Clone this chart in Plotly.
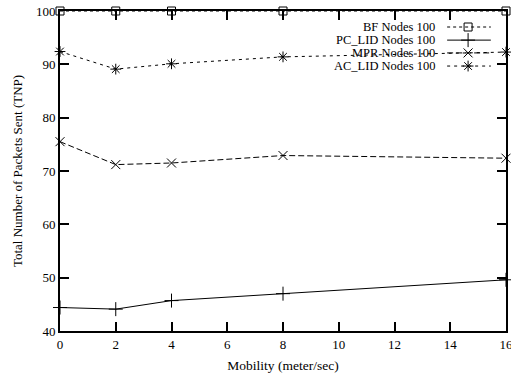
import plotly.graph_objects as go

mobility = [0, 2, 4, 8, 16]
bf = [100, 100, 100, 100, 100]
pc_lid = [44.4, 44.1, 45.7, 47.0, 49.6]
mpr = [75.5, 71.2, 71.5, 72.9, 72.4]
ac_lid = [92.4, 89.1, 90.1, 91.4, 92.3]

series_names = ["BF Nodes 100", "PC_LID Nodes 100", "MPR Nodes 100", "AC_LID Nodes 100"]
x_ticks = [0, 2, 4, 6, 8, 10, 12, 14, 16]
y_ticks = [40, 50, 60, 70, 80, 90, 100]

styles = [
    dict(dash="dot", symbol="square-open", size=8),
    dict(dash="solid", symbol="cross-thin-open", size=10),
    dict(dash="6px,3px", symbol="x-thin-open", size=9),
    dict(dash="3px,4px", symbol="asterisk-open", size=9),
]
data = [bf, pc_lid, mpr, ac_lid]

fig = go.Figure()
for name, ys, st in zip(series_names, data, styles):
    fig.add_trace(go.Scatter(
        x=mobility, y=ys, mode="lines+markers", name=name,
        line=dict(color="black", width=1, dash=st["dash"]),
        marker=dict(symbol=st["symbol"], size=st["size"], color="black",
                    line=dict(color="black", width=1)),
        cliponaxis=False, showlegend=False,
    ))

# Legend (gnuplot style: text right-aligned, sample on the right)
leg_y = [0.950, 0.909, 0.869, 0.828]
for name, st, ly in zip(series_names, styles, leg_y):
    fig.add_trace(go.Scatter(
        x=[0.868, 0.966], y=[ly, ly], xaxis="x2", yaxis="y2", mode="lines",
        line=dict(color="black", width=1, dash=st["dash"]), showlegend=False,
        hoverinfo="skip", cliponaxis=False,
    ))
    fig.add_trace(go.Scatter(
        x=[0.915], y=[ly], xaxis="x2", yaxis="y2", mode="markers",
        marker=dict(symbol=st["symbol"], size=st["size"], color="black",
                    line=dict(color="black", width=1)),
        showlegend=False, hoverinfo="skip", cliponaxis=False,
    ))
    fig.add_annotation(x=0.843, y=ly, xref="x2", yref="y2", text=name,
                       showarrow=False, xanchor="right", yanchor="middle",
                       borderpad=0,
                       font=dict(family="Liberation Serif", size=12.5, color="black"))

axis_common = dict(
    showgrid=False, zeroline=False, showline=True, linecolor="black", linewidth=2,
    mirror="ticks", ticks="inside", ticklen=9, tickwidth=2, tickcolor="black",
    automargin=False, ticklabeloverflow="allow",
    tickfont=dict(family="Liberation Serif", size=13, color="black"),
)

fig.update_layout(
    width=511, height=376,
    margin=dict(l=60, r=5, t=11, b=45),
    paper_bgcolor="white", plot_bgcolor="white",
    font=dict(family="Liberation Serif", color="black"),
    xaxis=dict(range=[0, 16], tickvals=x_ticks,
               title=dict(text="Mobility (meter/sec)", font=dict(size=13.5), standoff=10),
               **axis_common),
    yaxis=dict(range=[40, 100], tickvals=y_ticks,
               title=dict(text="Total Number of Packets Sent (TNP)", font=dict(size=13), standoff=10),
               **axis_common),
    xaxis2=dict(range=[0, 1], overlaying="x", visible=False),
    yaxis2=dict(range=[0, 1], overlaying="y", visible=False),
)

fig.write_html("out.html")
